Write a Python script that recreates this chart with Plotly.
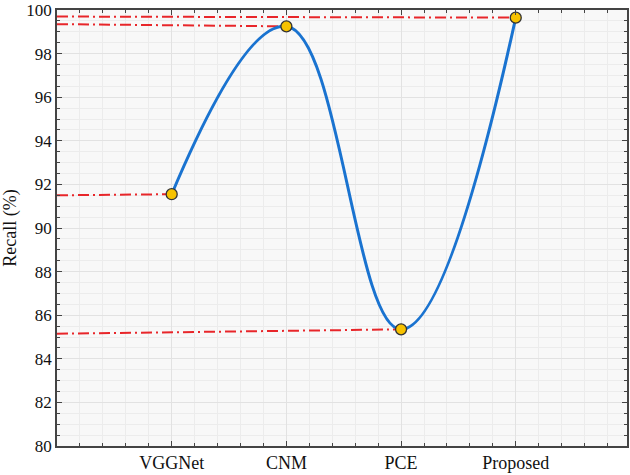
import plotly.graph_objects as go

categories = ["VGGNet", "CNM", "PCE", "Proposed"]
positions = [1, 2, 3, 4]
recall = [91.55, 99.25, 85.35, 99.65]
ref_left = [91.5, 99.35, 85.15, 99.7]
y_ticks = [80, 82, 84, 86, 88, 90, 92, 94, 96, 98, 100]

fig = go.Figure()

for p, v, vl in zip(positions, recall, ref_left):
    fig.add_trace(go.Scatter(
        x=[0, p], y=[vl, v], mode="lines",
        line=dict(color="#e8262a", width=2, dash="11px,4px,2px,4px"),
        hoverinfo="skip", showlegend=False))

fig.add_trace(go.Scatter(
    x=positions, y=recall, mode="lines",
    line=dict(color="#1a73d0", width=3, shape="spline", smoothing=1.2),
    showlegend=False))

fig.add_trace(go.Scatter(
    x=positions, y=recall, mode="markers",
    marker=dict(color="#f7c200", size=11, line=dict(color="#333333", width=1.3)),
    showlegend=False))

axis_common = dict(
    showline=True, linecolor="#444444", linewidth=1.5, mirror="ticks",
    ticks="inside", ticklen=5, tickcolor="#444444",
    showgrid=True, gridcolor="#e2e2e2", gridwidth=1, zeroline=False,
)

fig.update_xaxes(
    range=[0, 4.97], tickvals=positions, ticktext=categories,
    tickfont=dict(family="Liberation Serif", size=18, color="#111111"),
    minor=dict(dtick=0.2, ticks="inside", ticklen=3, tickcolor="#444444",
               showgrid=True, gridcolor="#ececec"),
    **axis_common)
fig.update_yaxes(
    range=[80, 100], tickvals=y_ticks,
    tickfont=dict(family="Liberation Serif", size=17, color="#111111"),
    title=dict(text="Recall (%)", font=dict(family="Liberation Serif", size=18, color="#111111"), standoff=10),
    minor=dict(dtick=0.5, ticks="inside", ticklen=3, tickcolor="#444444",
               showgrid=True, gridcolor="#ececec"),
    **axis_common)

fig.update_layout(
    width=630, height=475,
    margin=dict(l=57, r=1, t=10, b=29),
    paper_bgcolor="white", plot_bgcolor="#f8f8f8",
)

fig.write_html("out.html", config={"displayModeBar": False},
               post_script="document.body.style.margin='0';")
